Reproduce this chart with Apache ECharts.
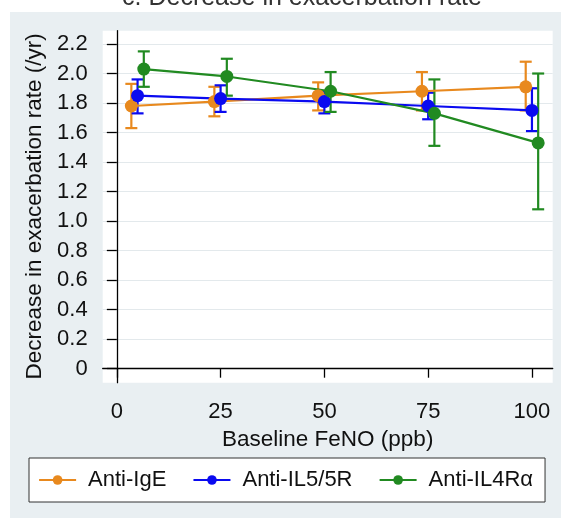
<!DOCTYPE html>
<html>
<head>
<meta charset="utf-8">
<script src="https://cdn.jsdelivr.net/npm/echarts@6/dist/echarts.min.js"></script>
<style>
  html, body { margin: 0; padding: 0; background: #fff; }
  #chart { width: 561px; height: 518px; }
</style>
</head>
<body>
<div id="chart"></div>
<script>
// series names
var names = ['Anti-IgE', 'Anti-IL5/5R', 'Anti-IL4Rα']
var colors = ['#e8891e', '#0a0af0', '#218a21']

// baseline FeNO (ppb), small offsets so the bars do not overlap
var xIgE = [3.5, 23.5, 48.5, 73.5, 98.5]
var xIL5 = [5, 25, 50, 75, 100]
var xIL4 = [6.5, 26.5, 51.5, 76.5, 101.5]

// decrease in exacerbation rate (/yr) and 95% CI
var meanIgE = [1.78, 1.81, 1.85, 1.88, 1.91]
var lowIgE = [1.63, 1.71, 1.75, 1.75, 1.75]
var highIgE = [1.93, 1.91, 1.94, 2.01, 2.08]

var meanIL5 = [1.85, 1.83, 1.81, 1.78, 1.75]
var lowIL5 = [1.73, 1.74, 1.73, 1.69, 1.61]
var highIL5 = [1.96, 1.92, 1.88, 1.87, 1.90]

var meanIL4 = [2.03, 1.98, 1.88, 1.73, 1.53]
var lowIL4 = [1.91, 1.85, 1.74, 1.51, 1.08]
var highIL4 = [2.15, 2.10, 2.01, 1.96, 2.00]

// axis ticks
var xTicks = [0, 25, 50, 75, 100]
var yTicks = ['0', '0.2', '0.4', '0.6', '0.8', '1.0', '1.2', '1.4', '1.6', '1.8', '2.0', '2.2']

var font = "'Liberation Sans', Arial, sans-serif"

function pairs (xs, ys) {
  return xs.map(function (x, i) { return [x, ys[i]] })
}
function ciData (xs, lo, hi) {
  return xs.map(function (x, i) { return [x, lo[i], hi[i]] })
}

function errBar (name, color, data) {
  return {
    name: name,
    type: 'custom',
    xAxisIndex: 1,
    yAxisIndex: 1,
    data: data,
    renderItem: function (params, api) {
      var x = api.value(0)
      var lo = api.coord([x, api.value(1)])
      var hi = api.coord([x, api.value(2)])
      var w = 6
      var st = { stroke: color, lineWidth: 2.2 }
      return {
        type: 'group',
        children: [
          { type: 'line', shape: { x1: lo[0], y1: lo[1], x2: hi[0], y2: hi[1] }, style: st },
          { type: 'line', shape: { x1: lo[0] - w, y1: lo[1], x2: lo[0] + w, y2: lo[1] }, style: st },
          { type: 'line', shape: { x1: hi[0] - w, y1: hi[1], x2: hi[0] + w, y2: hi[1] }, style: st }
        ]
      }
    }
  }
}

function lineSeries (name, color, data) {
  return {
    name: name,
    type: 'line',
    xAxisIndex: 1,
    yAxisIndex: 1,
    data: data,
    symbol: 'circle',
    symbolSize: 13,
    itemStyle: { color: color },
    lineStyle: { color: color, width: 2.2 }
  }
}

var option = {
  animation: false,
  backgroundColor: '#fff',
  textStyle: { fontFamily: font },
  graphic: [
    { type: 'rect', z: -10, shape: { x: 10, y: 12, width: 551, height: 506 }, style: { fill: '#e9eff2' } },
    {
      type: 'text', x: 302, y: -2,
      style: { text: 'c. Decrease in exacerbation rate', font: '25px ' + font, fill: '#333', textAlign: 'center', textVerticalAlign: 'middle' }
    }
  ],
  grid: [
    { left: 102.7, right: 8.3, top: 30.7, bottom: 135.3, show: true, backgroundColor: '#fff', borderWidth: 0 },
    { left: 102.7, right: 8.3, top: 44, bottom: 149.3 }
  ],
  xAxis: [
    {
      gridIndex: 0, type: 'value', min: -3.4, max: 105,
      axisLine: { show: true, lineStyle: { color: '#000', width: 1.3 } },
      axisTick: { show: false }, axisLabel: { show: false }, splitLine: { show: false }
    },
    {
      gridIndex: 1, type: 'value', min: -3.4, max: 105, offset: 14,
      axisLine: { show: false },
      axisTick: { show: true, length: 9, customValues: xTicks, lineStyle: { color: '#000', width: 1.3 } },
      axisLabel: { customValues: xTicks, margin: 18, fontSize: 22, color: '#111' },
      splitLine: { show: false },
      name: 'Baseline FeNO (ppb)', nameLocation: 'middle', nameGap: 46,
      nameTextStyle: { fontSize: 22.5, color: '#111' }
    }
  ],
  yAxis: [
    {
      gridIndex: 0, type: 'value', min: -0.1, max: 2.29,
      axisLine: { show: true, lineStyle: { color: '#000', width: 1.3 } },
      axisTick: { show: false }, axisLabel: { show: false }, splitLine: { show: false }
    },
    {
      gridIndex: 1, type: 'value', min: 0, max: 2.2, interval: 0.2,
      axisLine: { show: false },
      axisTick: { show: true, length: 10, lineStyle: { color: '#000', width: 1.3 } },
      axisLabel: {
        margin: 15, fontSize: 22, color: '#111',
        formatter: function (v) { return yTicks[Math.round(v / 0.2)] }
      },
      splitLine: { show: true, lineStyle: { color: '#e3e9ec', width: 1 } },
      name: 'Decrease in exacerbation rate (/yr)', nameLocation: 'middle', nameGap: 55, nameRotate: 90,
      nameTextStyle: { fontSize: 22.5, color: '#111' }
    }
  ],
  legend: {
    data: names,
    left: 29, top: 458,
    backgroundColor: '#fff', borderColor: '#333', borderWidth: 1,
    padding: [11, 12, 11, 9],
    itemGap: 26, itemWidth: 37, itemHeight: 12,
    lineStyle: { width: 2.2 },
    textStyle: { fontSize: 22, color: '#111', padding: [0, 0, 0, 7] }
  },
  series: [
    errBar('IgE CI', colors[0], ciData(xIgE, lowIgE, highIgE)),
    lineSeries(names[0], colors[0], pairs(xIgE, meanIgE)),
    errBar('IL5 CI', colors[1], ciData(xIL5, lowIL5, highIL5)),
    lineSeries(names[1], colors[1], pairs(xIL5, meanIL5)),
    errBar('IL4 CI', colors[2], ciData(xIL4, lowIL4, highIL4)),
    lineSeries(names[2], colors[2], pairs(xIL4, meanIL4))
  ]
}

var chart = echarts.init(document.getElementById('chart'))
chart.setOption(option)
</script>
</body>
</html>
